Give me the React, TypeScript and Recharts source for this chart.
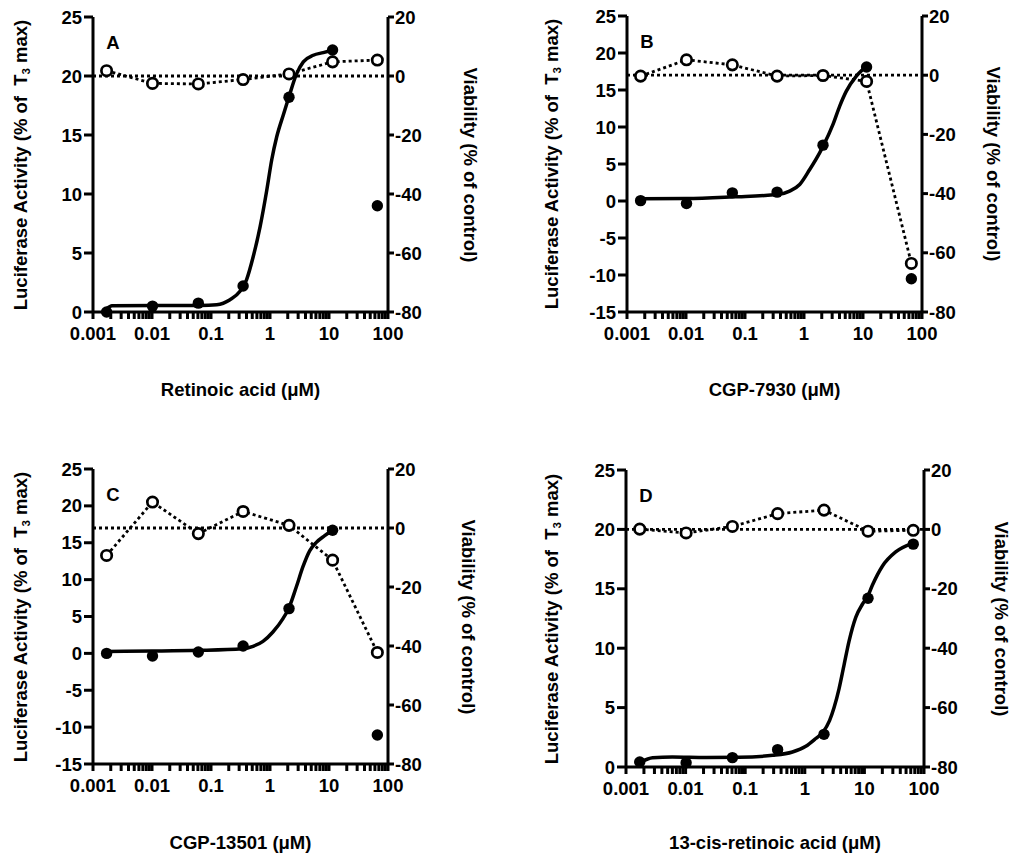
import React from "react";
import { ComposedChart, Line, XAxis, YAxis } from "recharts";

const FONT = '"Liberation Sans", Arial, Helvetica, sans-serif';
const FS = 18.5;

// concentrations (µM) used in every panel
const conc = [0.0017, 0.0102, 0.061, 0.35, 2.1, 11.5, 66];

const xMajorTicks = [0.001, 0.01, 0.1, 1, 10, 100];
const xTickLabels = ["0.001", "0.01", "0.1", "1", "10", "100"];
const minorSteps = [2, 3, 4, 5, 6, 7, 8, 9];
const viaTicks = [-80, -60, -40, -20, 0, 20];
const lucTicksShort = [0, 5, 10, 15, 20, 25];
const lucTicksLong = [-15, -10, -5, 0, 5, 10, 15, 20, 25];
// ends of the dotted 0 % viability line
const zeroX = [0.001, 100];

// Panel A - retinoic acid
const lucA = [0, 0.5, 0.75, 2.2, 18.2, 22.2, 9.0];
const viaA = [1.8, -2.5, -2.7, -1.2, 0.7, 4.8, 5.4];
const fitAx = [0.0017, 0.0021, 0.065, 0.125, 0.21, 0.31, 0.4, 0.52, 0.68, 0.88, 1.07, 1.3, 1.68, 2.07, 2.83, 3.67, 5.42, 8.0, 11.5];
const fitAy = [0.25, 0.53, 0.56, 0.62, 1.04, 1.75, 2.73, 4.7, 7.24, 10.3, 12.9, 14.85, 16.7, 18.15, 20.2, 21.2, 21.76, 21.98, 22.2];

// Panel B - CGP-7930
const lucB = [0.05, -0.35, 1.1, 1.2, 7.55, 18.1, -10.5];
const viaB = [-0.3, 5.2, 3.5, -0.3, -0.1, -2.1, -63.6];
const fitBx = [0.00175, 0.0101, 0.0626, 0.362, 0.571, 0.845, 1.25, 1.84, 2.15, 3.1, 4.03, 5.22, 7.71, 11.4];
const fitBy = [0.29, 0.33, 0.56, 0.87, 1.33, 2.23, 4.26, 6.51, 7.55, 10.35, 12.83, 14.85, 16.88, 18.2];

// Panel C - CGP-13501
const lucC = [0, -0.36, 0.18, 1.0, 6.07, 16.7, -11.07];
const viaC = [-9.3, 8.8, -1.9, 5.6, 0.9, -10.9, -42.2];
const fitCx = [0.00168, 0.0101, 0.061, 0.34, 0.515, 0.76, 1.12, 1.66, 2.05, 2.79, 3.62, 4.7, 6.1, 8.45, 11.4];
const fitCy = [0.27, 0.32, 0.41, 0.63, 0.95, 1.63, 2.9, 4.72, 6.0, 9.0, 11.75, 13.9, 15.05, 15.96, 16.7];

// Panel D - 13-cis-retinoic acid
const lucD = [0.42, 0.35, 0.79, 1.46, 2.75, 14.2, 18.76];
const viaD = [0.1, -1.2, 1.0, 5.3, 6.5, -0.6, -0.3];
const fitDx = [0.00178, 0.0028, 0.006, 0.022, 0.079, 0.29, 0.62, 1.04, 1.53, 2.03, 2.6, 3.1, 3.76, 4.56, 5.53, 7.16, 9.26, 11.2, 13.6, 20, 33.5, 62];
const fitDy = [0.42, 0.78, 0.84, 0.8, 0.82, 0.98, 1.26, 1.74, 2.4, 2.95, 3.9, 5.0, 6.6, 8.6, 10.6, 12.6, 13.7, 14.3, 15.3, 16.9, 18.1, 18.8];

const xTicks = xMajorTicks.slice(0, 5).flatMap((d) => [d, ...minorSteps.map((m) => m * d)]).concat([100]);

const isMajor = (v: number) => Math.abs(Math.log10(v) - Math.round(Math.log10(v))) < 1e-6;
const xLabel = (v: number) => {
  if (!isMajor(v)) return "";
  const idx = xMajorTicks.findIndex((t) => Math.abs(Math.log10(t) - Math.log10(v)) < 1e-6);
  return xTickLabels[idx];
};

const tickText = { fill: "#000", fontSize: FS, fontWeight: "bold", fontFamily: FONT };
const tickStyle = { stroke: "#000", strokeWidth: 3 };
const axisStyle = { stroke: "#000", strokeWidth: 3 };

const txt: React.CSSProperties = {
  position: "absolute",
  fontFamily: FONT,
  fontWeight: "bold",
  fontSize: FS,
  lineHeight: 1,
  whiteSpace: "pre",
  color: "#000",
};

function Placed({ cx, cy, rot = 0, children }: { cx: number; cy: number; rot?: number; children: React.ReactNode }) {
  return (
    <div style={{ ...txt, left: cx, top: cy, transform: `translate(-50%, -50%) rotate(${rot}deg)` }}>{children}</div>
  );
}

type PanelProps = {
  id: string;
  letter: string;
  xTitle: string;
  luc: number[];
  via: number[];
  fitX: number[];
  fitY: number[];
  lucDomain: [number, number];
  lucTicks: number[];
  ox: number;
  oy: number;
  l: number;
  r: number;
  t: number;
  b: number;
  leftTitleX: number;
  rightTitleX: number;
  xTitleY: number;
};

const CW = 506;
const CH = 414;
const AXW = 60;
const AXH = 40;

function Panel(p: PanelProps) {
  const lucPts = conc.map((x, i) => ({ x, y: p.luc[i] }));
  const viaPts = conc.map((x, i) => ({ x, v: p.via[i] }));
  const fit = p.fitX.map((x, i) => ({ x, y: p.fitY[i] }));
  const zeroPts = zeroX.map((x) => ({ x, v: 0 }));
  const midY = (p.t + p.b) / 2;
  const midX = (p.l + p.r) / 2;
  return (
    <>
      <ComposedChart
        id={p.id}
        width={CW}
        height={CH}
        style={{ position: "absolute", left: p.ox, top: p.oy }}
        margin={{
          top: p.t - p.oy,
          left: p.l - p.ox - AXW,
          right: CW - (p.r - p.ox) - AXW,
          bottom: CH - (p.b - p.oy) - AXH,
        }}
      >
        <XAxis
          dataKey="x"
          type="number"
          scale="log"
          domain={[0.001, 100]}
          ticks={xTicks}
          interval={0}
          tickSize={7}
          tickMargin={8}
          tickLine={tickStyle}
          axisLine={axisStyle}
          tick={tickText}
          tickFormatter={xLabel}
          height={AXH}
        />
        <XAxis
          xAxisId="top"
          orientation="top"
          dataKey="x"
          type="number"
          scale="log"
          domain={[0.001, 100]}
          tick={false}
          tickLine={false}
          axisLine={axisStyle}
          height={0}
        />
        <YAxis
          yAxisId="luc"
          orientation="left"
          domain={p.lucDomain}
          ticks={p.lucTicks}
          interval={0}
          tickSize={9}
          tickMargin={2}
          tickLine={tickStyle}
          axisLine={axisStyle}
          tick={tickText}
          width={AXW}
        />
        <YAxis
          yAxisId="via"
          orientation="right"
          domain={[-80, 20]}
          ticks={viaTicks}
          interval={0}
          tickSize={6}
          tickMargin={1}
          tickLine={tickStyle}
          axisLine={axisStyle}
          tick={tickText}
          width={AXW}
        />
        <Line
          yAxisId="via"
          data={zeroPts}
          dataKey="v"
          type="linear"
          stroke="#000"
          strokeWidth={2.8}
          strokeDasharray="3 3"
          dot={false}
          activeDot={false}
          isAnimationActive={false}
        />
        <Line
          yAxisId="luc"
          data={fit}
          dataKey="y"
          type="monotone"
          stroke="#000"
          strokeWidth={3.5}
          dot={false}
          activeDot={false}
          isAnimationActive={false}
        />
        <Line
          yAxisId="luc"
          data={lucPts}
          dataKey="y"
          stroke="none"
          dot={{ r: 5.7, fill: "#000", stroke: "#000", strokeWidth: 0 }}
          activeDot={false}
          isAnimationActive={false}
        />
        <Line
          yAxisId="via"
          data={viaPts}
          dataKey="v"
          type="linear"
          stroke="#000"
          strokeWidth={2.8}
          strokeDasharray="3 3"
          dot={{ r: 5.2, fill: "#fff", stroke: "#000", strokeWidth: 2.7, strokeDasharray: "none" }}
          activeDot={false}
          isAnimationActive={false}
        />
      </ComposedChart>
      <Placed cx={p.l + 20} cy={p.t + 26}>
        {p.letter}
      </Placed>
      <Placed cx={p.leftTitleX} cy={midY} rot={-90}>
        {"Luciferase Activity (% of  T"}
        <span style={{ fontSize: "0.62em", verticalAlign: "-0.3em" }}>3</span>
        {" max)"}
      </Placed>
      <Placed cx={p.rightTitleX} cy={midY} rot={90}>
        {"Viability (% of control)"}
      </Placed>
      <Placed cx={midX} cy={p.xTitleY}>
        {p.xTitle}
      </Placed>
    </>
  );
}

export default function App() {
  return (
    <div style={{ position: "absolute", left: 0, top: 0, width: 1013, height: 854, background: "#fff" }}>
      <Panel
        id="panelA"
        letter="A"
        xTitle="Retinoic acid (μM)"
        luc={lucA}
        via={viaA}
        fitX={fitAx}
        fitY={fitAy}
        lucDomain={[0, 25]}
        lucTicks={lucTicksShort}
        ox={0}
        oy={0}
        l={93}
        r={388}
        t={17}
        b={312}
        leftTitleX={22}
        rightTitleX={470}
        xTitleY={390}
      />
      <Panel
        id="panelB"
        letter="B"
        xTitle="CGP-7930 (μM)"
        luc={lucB}
        via={viaB}
        fitX={fitBx}
        fitY={fitBy}
        lucDomain={[-15, 25]}
        lucTicks={lucTicksLong}
        ox={506}
        oy={0}
        l={627}
        r={922}
        t={16}
        b={312}
        leftTitleX={553}
        rightTitleX={993}
        xTitleY={390}
      />
      <Panel
        id="panelC"
        letter="C"
        xTitle="CGP-13501 (μM)"
        luc={lucC}
        via={viaC}
        fitX={fitCx}
        fitY={fitCy}
        lucDomain={[-15, 25]}
        lucTicks={lucTicksLong}
        ox={0}
        oy={440}
        l={93}
        r={388}
        t={469}
        b={764}
        leftTitleX={22}
        rightTitleX={468}
        xTitleY={843}
      />
      <Panel
        id="panelD"
        letter="D"
        xTitle="13-cis-retinoic acid (μM)"
        luc={lucD}
        via={viaD}
        fitX={fitDx}
        fitY={fitDy}
        lucDomain={[0, 25]}
        lucTicks={lucTicksShort}
        ox={506}
        oy={440}
        l={626}
        r={924}
        t={470}
        b={767}
        leftTitleX={553}
        rightTitleX={1001}
        xTitleY={843}
      />
    </div>
  );
}
